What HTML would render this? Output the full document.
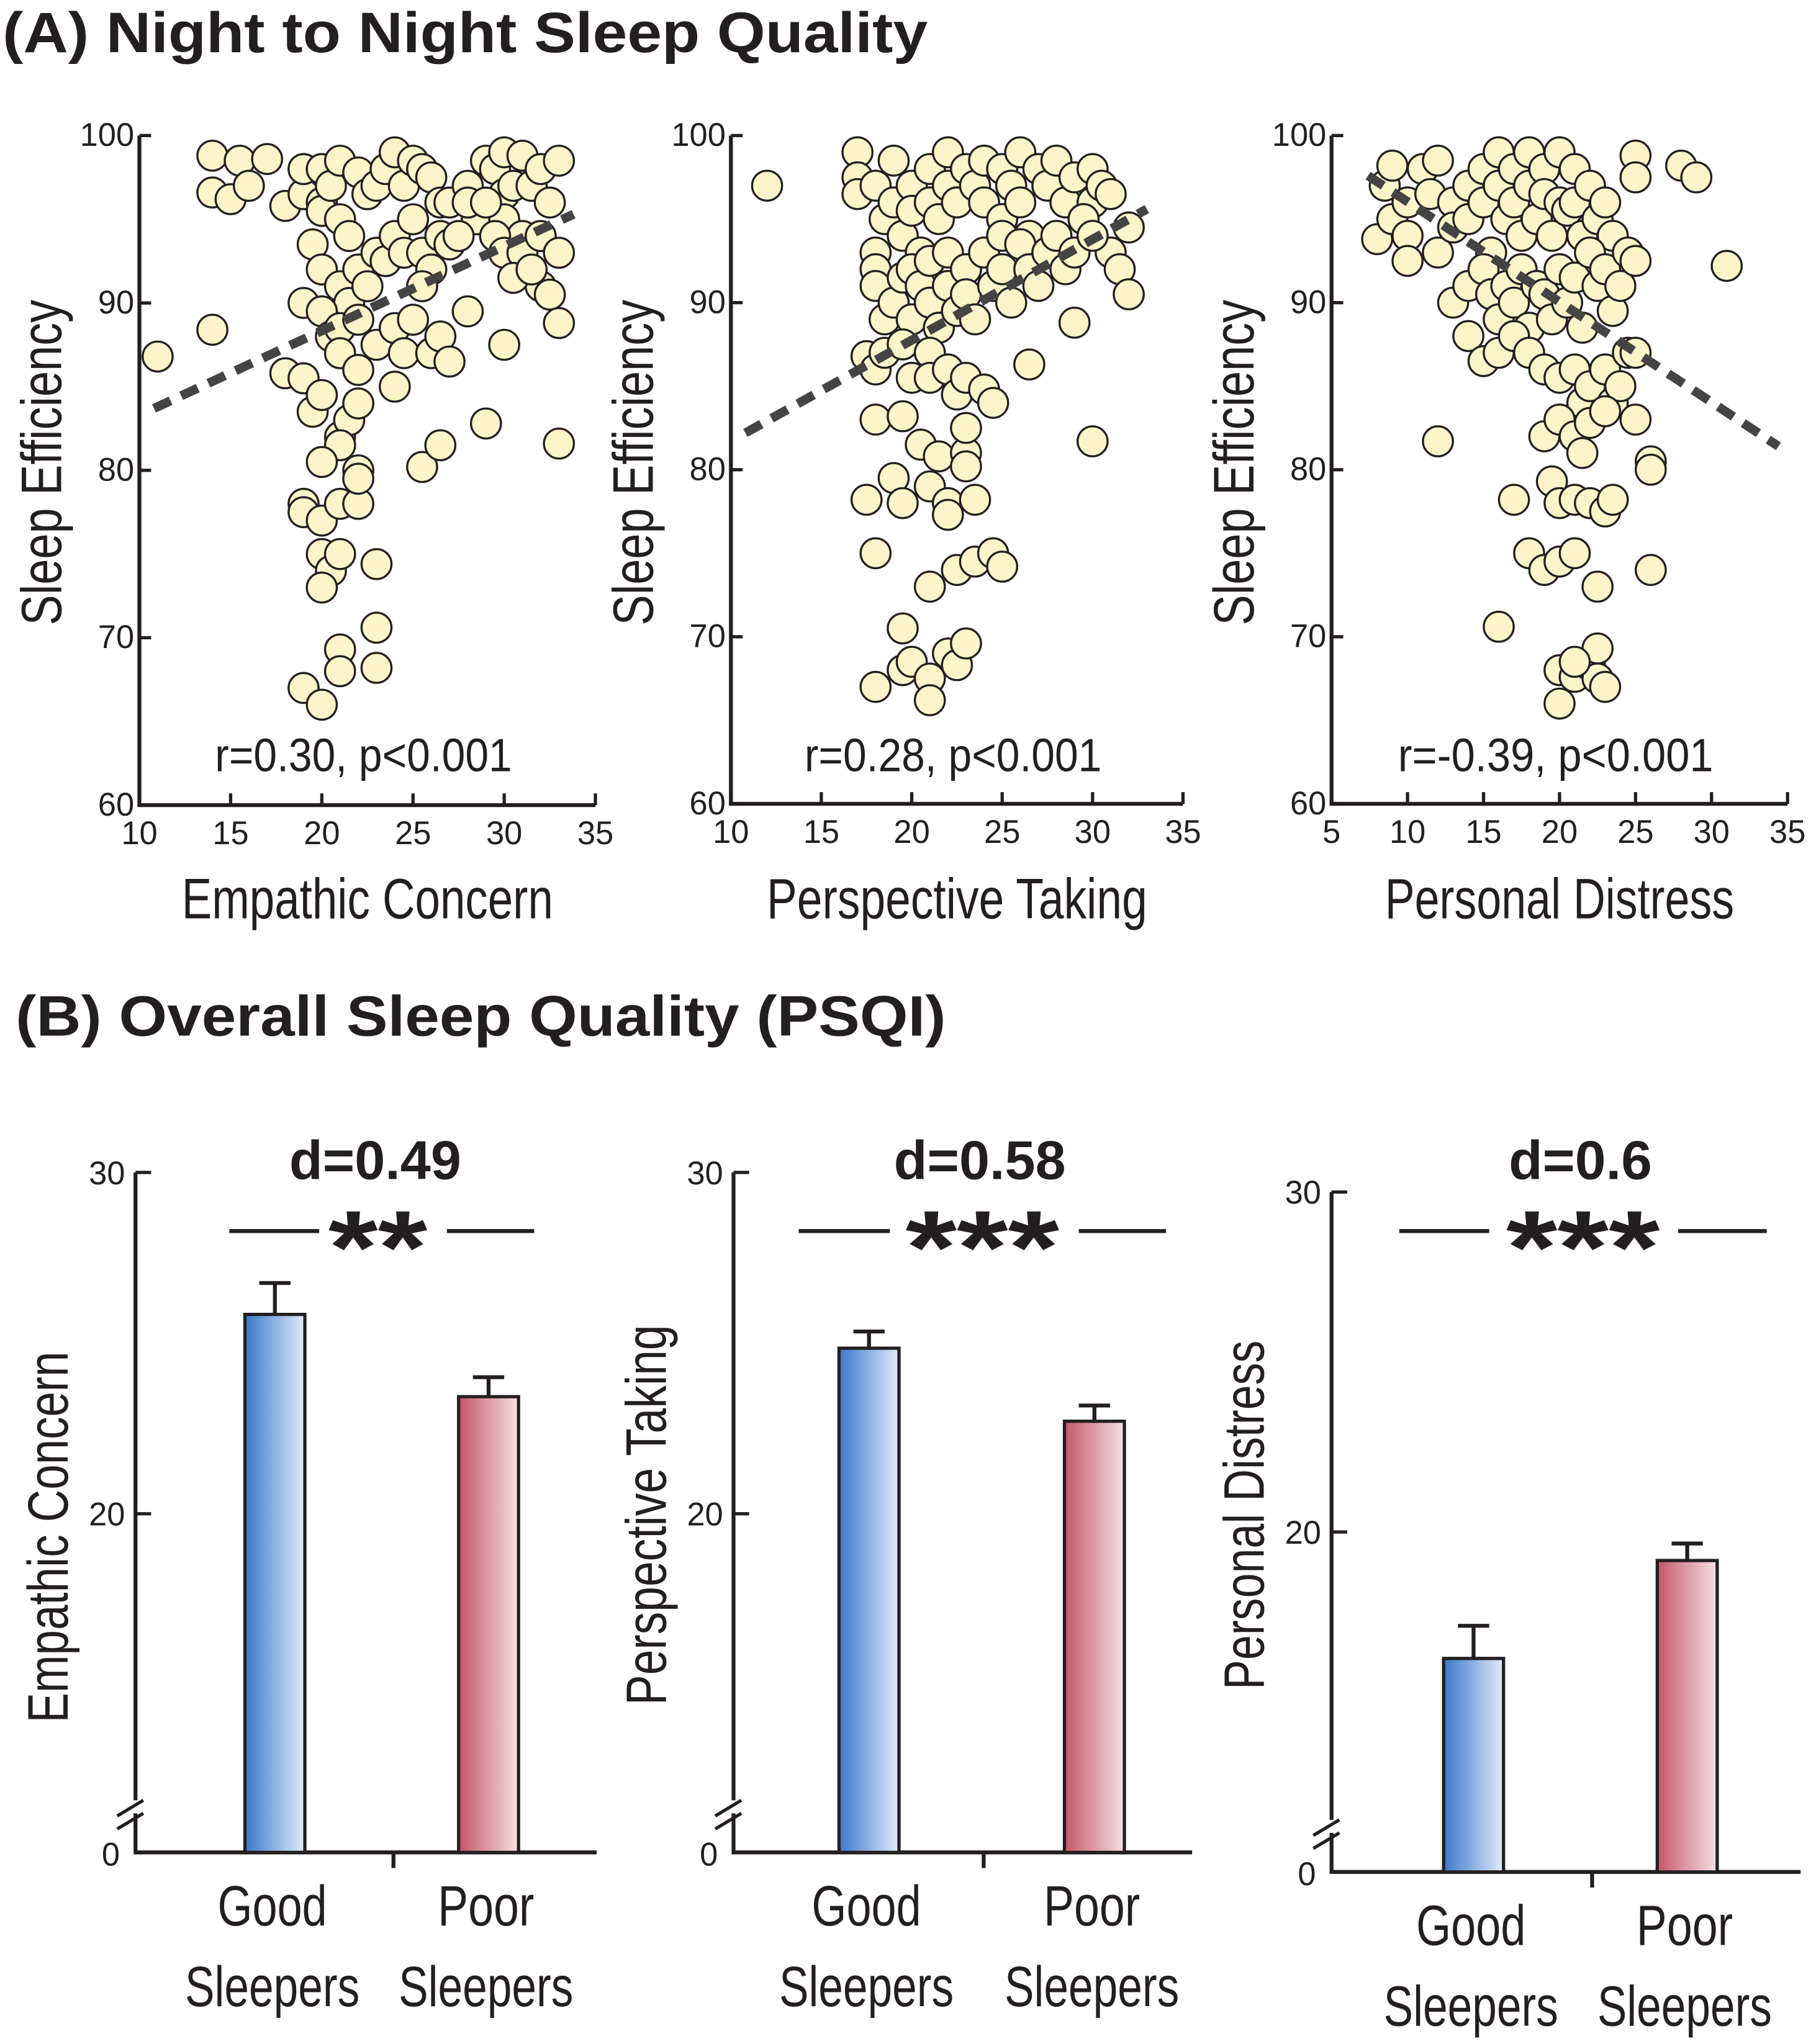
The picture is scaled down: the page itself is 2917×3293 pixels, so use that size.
<!DOCTYPE html>
<html><head><meta charset="utf-8"><style>
html,body{margin:0;padding:0;background:#fff;}
svg{display:block;}
text{font-family:"Liberation Sans",sans-serif;fill:#231f20;}
</style></head><body>
<svg id="fig" width="2917" height="3293" viewBox="0 0 1390 1569" xmlns="http://www.w3.org/2000/svg">
<defs>
<linearGradient id="gBlue" x1="0" x2="1" y1="0" y2="0"><stop offset="0" stop-color="#3a78cc"/><stop offset="1" stop-color="#e3eaf8"/></linearGradient>
<linearGradient id="gRed" x1="0" x2="1" y1="0" y2="0"><stop offset="0" stop-color="#c4566a"/><stop offset="1" stop-color="#f6e0e3"/></linearGradient>
</defs>
<text x="2" y="40" font-size="44" font-weight="bold" textLength="710" lengthAdjust="spacingAndGlyphs">(A) Night to Night Sleep Quality</text>
<text x="12" y="795" font-size="44" font-weight="bold" textLength="714" lengthAdjust="spacingAndGlyphs">(B)   Overall Sleep Quality (PSQI)</text>
<g id="scatters"></g>
<g id="bars"></g>
</svg>
<script>
// ---------- Scatter data ----------
const ecPoints = [[11,86.8],[14,98.8],[14,96.6],[15,96.2],[15.5,98.5],[16,97],[17,98.6],[18,95.8],[19,96.5],[14,88.4],
[19,98],[19.5,93.5],[20,98],[20,96],[20,95.5],[20.5,97],[21,98.5],[21,95],[21.5,94],[22,97.8],[22.5,96.5],[23,97],[23.5,98],[24,99],[24.5,97],[25,98.5],[25.5,98],[26,97.5],[26.5,96],[27,96],[28,97],[28.5,95],[29,98.5],[29.5,98],[30,99],[30,96.5],[30.5,97],[31,98.8],[31.5,97],[32,98],[33,98.5],[32.5,96],[30,95],[31,94],
[20,92],[21,91],[21.5,90],[22,92],[22.5,91],[23,93],[23.5,92.5],[24,94],[24.5,93],[25,95],[25.5,93],[26,92],[26.5,94],[27,93.5],[27.5,94],[28,96],[29,96],[29.5,94],[30,93],[31,93],[32,94],[32,91],[33,93],[32.5,90.5],[33,88.8],[30.5,91.5],[31.5,92],
[19,90],[20,89.5],[20.5,88],[21,88.5],[21,87],[22,86],[22,89],[23,87.5],[24,88.5],[24.5,87],[25,89],[25.5,91],[26,87],[26.5,88],[27,86.5],[28,89.5],[30,87.5],
[18,85.8],[19,85.5],[19.5,83.5],[20,84.5],[21,82],[21.5,83],[22,84],[22,80],[24,85],[21,81.5],[20,80.5],[25.5,80.2],[26.5,81.5],[29,82.8],[33,81.6],
[19,78],[19,77.5],[20,77],[21,78],[22,78],[22,79.5],[20,75],[20.5,74],[21,75],[23,74.4],[20,73],
[21,69.3],[21,68],[23,70.6],[23,68.2],[19,67],[20,66]];
const ptPoints = [[12,97],[17,99],[17,97.5],[17,96.5],[18,97],[18,93],[18,92],[18.5,95],[19,98.5],[19,96],[19.5,94],[20,97],[20,95.5],[20.5,93],[21,98],[21,96],[21.5,95],[22,99],[22,97],[22.5,96],[23,98],[23.5,97],[24,98.5],[24,96],[25,98],[25,95],[25.5,97],[26,99],[26,96],[26.5,94],[27,98],[27.5,97],[28,98.5],[28.5,96],[29,97.5],[29.5,95],[30,98],[30,96],[30.5,97],[31,96.5],[31,93],[32,94.5],[31.5,92],[32,90.5],
[18,91],[18.5,89],[19,90],[19.5,91.5],[20,92],[20,89],[20.5,91],[21,92.5],[21,90],[21.5,88.5],[22,93],[22,91],[22.5,89.5],[23,92],[23,90.5],[23.5,89],[24,93],[24.5,91],[25,94],[25,92],[25.5,90],[26,93.5],[26.5,92],[27,91],[27.5,93],[28,94],[28.5,92],[29,93],[29.5,95],[30,94],[29,88.8],
[17.5,86.8],[18,86],[18.5,87],[19.5,87.5],[20,85.5],[21,87],[21,85.5],[22,86],[22.5,84.5],[23,85.5],[24,84.8],[24.5,84],[26.5,86.3],
[18,83],[19.5,83.2],[20.5,81.5],[21.5,80.8],[23,81],[23,82.5],[23,80.2],[30,81.7],
[17.5,78.2],[19,79.5],[19.5,78],[21,79],[22,78],[22,77.3],[23.5,78.2],
[18,75],[22.5,74],[23.5,74.5],[24.5,75],[25,74.2],[21,73],
[19.5,70.5],[19.5,68],[20,68.5],[21,67.5],[22,69],[22.5,68.3],[23,69.6],[18,67],[21,66.2]];
const pdPoints = [[8,93.8],[8.5,97],[9,98.2],[9,95],[10,96],[10,94],[10,92.5],[11,98],[11.5,96.5],[12,98.5],[12,93],[13,96],[13,94.5],[14,97],[14,95],[15,98],[15,96],[15.5,93],[16,99],[16,97],[16.5,95],[17,98],[17,96],[17.5,94],[18,99],[18,97],[18.5,95],[19,98],[19,96.5],[19.5,94],[20,99],[20,96],[20.5,95.5],[21,98],[21,96],[21.5,94],[22,97],[22.5,95],[23,96],[23.5,94],[25,98.8],[25,97.5],[28,98.2],[29,97.5],[31,92.2],
[13,90],[14,91],[15,92],[15.5,90.5],[16,89],[16.5,91],[17,90],[17.5,92],[18,88.5],[18.5,91],[19,90.5],[19.5,89],[20,92],[20.5,90],[21,91.5],[21.5,88.5],[22,93],[22.5,91],[23,92],[23.5,89.5],[24,91],[24.5,93],[25,92.5],[14,88],[15,86.5],[16,87],[17,88],[18,87],[19,86],[20,85.5],[21,86],[21.5,84],[22,85],[23,86],[23.5,84],[24,85],[24.5,87],[25,87],
[12,81.7],[19,82],[20,83],[21,82],[21.5,81],[22,82.8],[23,83.5],[25,83],[26,80.5],[26,80],
[17,78.2],[19.5,79.3],[20,78],[21,78.2],[22,78],[23,77.5],[23.5,78.2],[18,75],[19,74],[20,74.5],[21,75],[22.5,73],[26,74],
[16,70.6],[20,68],[21,67.6],[22,68.3],[22.5,69.3],[22.5,67.5],[23,67],[20,66],[21,68.5]];
const ecTrend = [[10.8,83.7],[33.8,95.3]];
const ptTrend = [[10.8,82.2],[33,95.6]];
const pdTrend = [[7.4,97.6],[34.4,81.4]];
const ecXTicks = [10,15,20,25,30,35];
const ptXTicks = [10,15,20,25,30,35];
const pdXTicks = [5,10,15,20,25,30,35];
const sleepYTicks = [60,70,80,90,100];
const scatterStats = ["r=0.30, p<0.001","r=0.28, p<0.001","r=-0.39, p<0.001"];
const scatterXTitles = ["Empathic Concern","Perspective Taking","Personal Distress"];

// ---------- Bar data ----------
const barGroups = ["Good","Poor"];
const ecMeans = [25.84,23.43];
const ecErr = [0.92,0.57];
const ptMeans = [24.85,22.71];
const ptErr = [0.49,0.46];
const pdMeans = [16.28,19.16];
const pdErr = [0.96,0.5];
const barYTicks = [20,30];
const effectSizes = ["d=0.49","d=0.58","d=0.6"];
const sigStars = ["**","***","***"];
const barYTitles = ["Empathic Concern","Perspective Taking","Personal Distress"];

const NS="http://www.w3.org/2000/svg";
function mk(tag, attrs, parent){const e=document.createElementNS(NS,tag);for(const k in attrs)e.setAttribute(k,attrs[k]);parent.appendChild(e);return e;}

const scatterCfg = [
 {pts:ecPoints,trend:ecTrend,xt:ecXTicks,x0:107,x1:457,xmin:10,xmax:35,ytop:104,ybot:618},
 {pts:ptPoints,trend:ptTrend,xt:ptXTicks,x0:561,x1:908,xmin:10,xmax:35,ytop:104,ybot:617},
 {pts:pdPoints,trend:pdTrend,xt:pdXTicks,x0:1022,x1:1372,xmin:5,xmax:35,ytop:104,ybot:617}
];
const sg=document.getElementById('scatters');
scatterCfg.forEach((c,i)=>{
  const g=mk('g',{},sg);
  
  
  const xs=v=>c.x0+(v-c.xmin)/(c.xmax-c.xmin)*(c.x1-c.x0);
  const ys=v=>c.ybot-(v-60)/40*(c.ybot-c.ytop);
  const ax=mk('path',{d:`M${c.x0},${c.ytop} V${c.ybot} H${c.x1}`,fill:'none',stroke:'#231f20','stroke-width':3},g);
  
  
  c.xt.forEach(t=>{
    mk('line',{x1:xs(t),x2:xs(t),y1:c.ybot,y2:c.ybot-9,stroke:'#231f20','stroke-width':2.5},g);
    const tl=mk('text',{x:xs(t),y:c.ybot+30,'font-size':25,'text-anchor':'middle'},g);
    tl.textContent=t;
    
    
  });
  sleepYTicks.forEach(t=>{
    mk('line',{x1:c.x0,x2:c.x0+9,y1:ys(t),y2:ys(t),stroke:'#231f20','stroke-width':2.5},g);
    const tl=mk('text',{x:c.x0-4,y:ys(t)+8,'font-size':25,'text-anchor':'end'},g);
    tl.textContent=t;
    
    
  });
  c.pts.forEach(p=>{
    const ci=mk('circle',{cx:xs(p[0]),cy:ys(p[1]),r:11.5,fill:'#fdf5c9',stroke:'#231f20','stroke-width':1.6},g);
    
    
  });
  const tr=mk('line',{x1:xs(c.trend[0][0]),y1:ys(c.trend[0][1]),x2:xs(c.trend[1][0]),y2:ys(c.trend[1][1]),stroke:'#444','stroke-width':7,'stroke-dasharray':'14,9'},g);
  
  
  const st=mk('text',{x:(c.x0+c.x1)/2-3,y:592,'font-size':36,'text-anchor':'middle',textLength:(i==2?242:228),lengthAdjust:'spacingAndGlyphs'},g);
  st.textContent=scatterStats[i];
  
  
  const xt=mk('text',{x:(c.x0+c.x1)/2,y:705,'font-size':44,'text-anchor':'middle',textLength:(i==1?292:(i==2?268:285)),lengthAdjust:'spacingAndGlyphs'},g);
  xt.textContent=scatterXTitles[i];
  
  
  const yx=c.x0-60;
  const yt=mk('text',{x:0,y:0,'font-size':44,'text-anchor':'middle',textLength:250,lengthAdjust:'spacingAndGlyphs',transform:`translate(${yx},355) rotate(-90)`},g);
  yt.textContent='Sleep Efficiency';
  
  
});

const barCfg = [
 {m:ecMeans,e:ecErr,x0:104,x1:458,mid:302,y30:900,y20:1162,ybot:1422,cx:[211,375],dy:905,line:[[176,245],[343,410]],starX:290},
 {m:ptMeans,e:ptErr,x0:563,x1:915,mid:755,y30:900,y20:1162,ybot:1422,cx:[667,840],dy:905,line:[[613,683],[828,895]],starX:754},
 {m:pdMeans,e:pdErr,x0:1022,x1:1382,mid:1222,y30:915,y20:1176,ybot:1437,cx:[1131,1295],dy:905,line:[[1074,1143],[1288,1356]],starX:1215}
];
const bg=document.getElementById('bars');
barCfg.forEach((c,i)=>{
  const g=mk('g',{},bg);
  
  
  const ys=v=>c.y20-(v-20)*(c.y20-c.y30)/10;
  const ax=mk('path',{d:`M${c.x0},${c.y30} V${c.ybot} H${c.x1}`,fill:'none',stroke:'#231f20','stroke-width':3},g);
  
  
  mk('line',{x1:c.mid,x2:c.mid,y1:c.ybot,y2:c.ybot+12,stroke:'#231f20','stroke-width':3},g);
  mk('rect',{x:c.x0-8,y:c.ybot-40,width:16,height:10,fill:'#fff'},g);
  mk('line',{x1:c.x0-14,y1:c.ybot-28,x2:c.x0+6,y2:c.ybot-40,stroke:'#231f20','stroke-width':2.5},g);
  mk('line',{x1:c.x0-14,y1:c.ybot-18,x2:c.x0+6,y2:c.ybot-30,stroke:'#231f20','stroke-width':2.5},g);
  barYTicks.forEach(t=>{
    mk('line',{x1:c.x0,x2:c.x0+12,y1:ys(t),y2:ys(t),stroke:'#231f20','stroke-width':2.5},g);
    const tl=mk('text',{x:c.x0-8,y:ys(t)+9,'font-size':25,'text-anchor':'end'},g);
    tl.textContent=t;
    
    
  });
  const z=mk('text',{x:c.x0-12,y:c.ybot+10,'font-size':25,'text-anchor':'end'},g);
  z.textContent='0';
  
  
  c.m.forEach((v,j)=>{
    const x=c.cx[j]-23, top=ys(v), et=ys(v+c.e[j]);
    const eb=mk('path',{d:`M${c.cx[j]},${top} V${et} M${c.cx[j]-12},${et} H${c.cx[j]+12}`,stroke:'#231f20','stroke-width':3,fill:'none'},g);
    
    
    const r=mk('rect',{x:x,y:top,width:46,height:c.ybot-top,fill:j==0?'url(#gBlue)':'url(#gRed)',stroke:'#231f20','stroke-width':2.5},g);
    
    
    const l1=mk('text',{x:c.cx[j]-2,y:c.ybot+56,'font-size':44,'text-anchor':'middle',textLength:(j==0?84:74),lengthAdjust:'spacingAndGlyphs'},g);
    l1.textContent=barGroups[j];
    
    
    const l2=mk('text',{x:c.cx[j]-2,y:c.ybot+118,'font-size':44,'text-anchor':'middle',textLength:134,lengthAdjust:'spacingAndGlyphs'},g);
    l2.textContent='Sleepers';
    
    
  });
  const d=mk('text',{x:c.starX-2,y:c.dy,'font-size':42,'font-weight':'bold','text-anchor':'middle',textLength:(i==2?110:132),lengthAdjust:'spacingAndGlyphs'},g);
  d.textContent=effectSizes[i];
  
  
  c.line.forEach(l=>{
    const ln=mk('line',{x1:l[0],x2:l[1],y1:945,y2:945,stroke:'#231f20','stroke-width':3},g);
    
    
  });
  const s=mk('text',{x:c.starX,y:985,'font-size':80,'font-weight':'bold','text-anchor':'middle',textLength:(i==0?76:118),lengthAdjust:'spacingAndGlyphs'},g);
  s.textContent=sigStars[i];
  
  
  const yt=mk('text',{x:0,y:0,'font-size':44,'text-anchor':'middle',textLength:(i==0?285:(i==1?292:268)),lengthAdjust:'spacingAndGlyphs',transform:`translate(${c.x0-52},${i==0?1180:1163}) rotate(-90)`},g);
  yt.textContent=barYTitles[i];
  
  
});
</script>
</body></html>
